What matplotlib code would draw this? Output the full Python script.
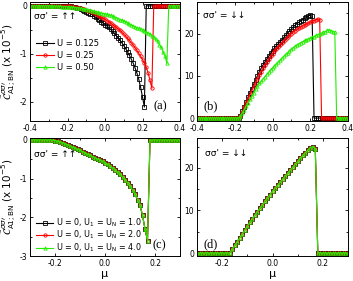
import matplotlib
matplotlib.use('Agg')
import matplotlib.pyplot as plt
import numpy as np
from matplotlib.ticker import AutoMinorLocator

plt.rcParams['font.family'] = ['DejaVu Sans']
plt.rcParams['axes.unicode_minus'] = False

# mu grids
mu_top = np.round(np.linspace(-0.40, 0.40, 81), 2)
mu_bot = np.round(np.linspace(-0.30, 0.30, 61), 2)

# (a) up-up, U = 0.125 / 0.25 / 0.50
up_u0125 = [0.0] * 21 + [
    -0.005, -0.01, -0.02, -0.03, -0.04, -0.055, -0.07, -0.085, -0.10, -0.12,
    -0.14, -0.16, -0.18, -0.21, -0.24, -0.27, -0.30, -0.33, -0.36,
    -0.39, -0.42, -0.45, -0.49, -0.53, -0.57, -0.62, -0.67, -0.72, -0.77,
    -0.83, -0.89, -0.96, -1.03, -1.11, -1.19, -1.29, -1.40, -1.53, -1.70,
    -1.90, -2.11] + [0.0] * 19
up_u025 = [0.0] * 21 + [
    -0.005, -0.01, -0.015, -0.02, -0.03, -0.04, -0.05, -0.06, -0.075, -0.09,
    -0.10, -0.115, -0.13, -0.15, -0.17, -0.19, -0.22, -0.24, -0.26,
    -0.28, -0.31, -0.33, -0.36, -0.39, -0.42, -0.45, -0.48, -0.51, -0.55,
    -0.59, -0.63, -0.68, -0.72, -0.77, -0.82, -0.87, -0.93, -0.99, -1.05,
    -1.12, -1.19, -1.28, -1.40, -1.55, -1.72] + [0.0] * 15
up_u050 = [0.0] * 11 + [
    -0.002, -0.004, -0.006, -0.008, -0.01, -0.012, -0.014, -0.016, -0.018, -0.02,
    -0.024, -0.028, -0.032, -0.036, -0.04, -0.046, -0.052, -0.058, -0.064, -0.07,
    -0.08, -0.09, -0.10, -0.11, -0.12, -0.13, -0.14, -0.15, -0.16,
    -0.17, -0.18, -0.19, -0.20, -0.215, -0.23, -0.245, -0.265, -0.285, -0.30,
    -0.32, -0.34, -0.36, -0.38, -0.40, -0.42, -0.44, -0.455, -0.47, -0.49,
    -0.51, -0.53, -0.55, -0.57, -0.59, -0.62, -0.65, -0.70, -0.73, -0.81,
    -0.85, -0.96, -1.04, -1.20] + [0.0] * 7

# (b) down-down
dn_u0125 = [0.0] * 23 + [
    0.5, 1.6, 2.7, 3.8, 4.9, 6.0, 7.0, 8.0, 9.0, 10.0, 11.0, 11.8, 12.6, 13.3,
    14.0, 14.7, 15.4,
    16.0, 16.6, 17.1, 17.6, 18.1, 18.6, 19.1, 19.6, 20.1, 20.6, 21.1, 21.6,
    22.0, 22.4, 22.7, 23.0, 23.3, 23.6, 23.9, 24.2, 24.4, 24.1] + [0.0] * 19
dn_u025 = [0.0] * 23 + [
    0.5, 1.5, 2.5, 3.5, 4.5, 5.5, 6.5, 7.5, 8.4, 9.3, 10.2, 11.0, 11.8, 12.5,
    13.2, 13.9, 14.6,
    15.2, 15.8, 16.3, 16.8, 17.3, 17.8, 18.3, 18.8, 19.2, 19.6, 20.0, 20.4,
    20.7, 21.0, 21.3, 21.6, 21.9, 22.1, 22.3, 22.5, 22.7, 22.9, 23.1, 23.3,
    23.5, 23.3] + [0.0] * 15
dn_u050 = [0.0] * 23 + [
    0.4, 1.2, 2.0, 2.8, 3.6, 4.4, 5.2, 6.0, 6.8, 7.5, 8.2, 8.7, 9.3, 9.8,
    10.4, 10.9, 11.5,
    11.9, 12.4, 12.8, 13.3, 13.7, 14.2, 14.6, 15.1, 15.5, 16.0,
    16.3, 16.7, 17.0, 17.4, 17.6, 17.9, 18.1, 18.4, 18.5, 18.8,
    18.9, 19.2, 19.3, 19.6, 19.7, 20.0, 20.1, 20.4, 20.5, 20.8,
    20.9, 20.7, 20.5, 20.4] + [0.0] * 7

# (c)/(d) U=0, U1=UN = 1, 2, 4 (curves coincide)
up_u1 = [0.0] * 9 + [
    -0.005, -0.015, -0.03, -0.05, -0.07, -0.10, -0.12, -0.15, -0.18, -0.21,
    -0.24, -0.27, -0.30, -0.34, -0.37, -0.40, -0.43, -0.46, -0.49, -0.52, -0.55,
    -0.59, -0.63, -0.67, -0.72, -0.77, -0.83, -0.89, -0.96, -1.03, -1.11,
    -1.20, -1.30, -1.41, -1.54, -1.69, -1.95, -2.30, -2.60] + [0.0] * 13
dn_u1 = [0.0] * 14 + [
    0.9, 1.8, 2.7, 3.6, 4.5, 5.4, 6.3, 7.2, 8.1, 8.9, 9.7, 10.5, 11.3, 12.1,
    12.9, 13.7,
    14.5, 15.2, 15.9, 16.6, 17.3, 18.0, 18.7, 19.4, 20.1, 20.8, 21.5, 22.2,
    22.9, 23.5, 24.1, 24.7, 25.0, 24.5] + [0.0] * 13

top_labels = ['U = 0.125', 'U = 0.25', 'U = 0.50']
bot_labels = ['U = 0, U$_1$ = U$_\\mathregular{N}$ = 1.0',
              'U = 0, U$_1$ = U$_\\mathregular{N}$ = 2.0',
              'U = 0, U$_1$ = U$_\\mathregular{N}$ = 4.0']
colors = ['black', '#ff0000', '#22ee00']
markers = ['s', 'o', '^']

ylab = r'$\tilde{\mathcal{C}}^{\sigma\sigma\prime}_{\mathrm{A1;BN}}$ (x 10$^{-5}$)'

W, H = 353.0, 281.0
fig = plt.figure(figsize=(3.53, 2.81), dpi=100)
ax_a = fig.add_axes([30/W, 1-121/H, 150/W, 119/H])
ax_b = fig.add_axes([197/W, 1-121/H, 151/W, 119/H])
ax_c = fig.add_axes([30/W, 1-256/H, 150/W, 118/H])
ax_d = fig.add_axes([197/W, 1-256/H, 151/W, 118/H])


def draw(ax, x, series, labels):
    for y, lab, c, m in zip(series, labels, colors, markers):
        ax.plot(x, y, color=c, lw=0.8, marker=m, ms=2.4, mfc='none',
                mew=0.6, label=lab)


draw(ax_a, mu_top, [up_u0125, up_u025, up_u050], top_labels)
draw(ax_b, mu_top, [dn_u0125, dn_u025, dn_u050], top_labels)
draw(ax_c, mu_bot, [up_u1, up_u1, up_u1], bot_labels)
draw(ax_d, mu_bot, [dn_u1, dn_u1, dn_u1], bot_labels)

ax_a.set_xlim(-0.4, 0.4)
ax_a.set_ylim(-2.4, 0.08)
ax_a.set_yticks([0, -1, -2])
ax_b.set_xlim(-0.4, 0.4)
ax_b.set_ylim(-0.7, 27.5)
ax_b.set_yticks([0, 10, 20])
for ax in (ax_a, ax_b):
    ax.set_xticks([-0.4, -0.2, 0.0, 0.2, 0.4])
ax_c.set_xlim(-0.3, 0.3)
ax_c.set_ylim(-3, 0.05)
ax_c.set_yticks([0, -1, -2, -3])
ax_d.set_xlim(-0.3, 0.3)
ax_d.set_ylim(-0.7, 27)
ax_d.set_yticks([0, 10, 20])
for ax in (ax_c, ax_d):
    ax.set_xticks([-0.2, 0.0, 0.2])
    ax.set_xlabel('μ', fontsize=8, labelpad=1)

for ax in (ax_a, ax_b, ax_c, ax_d):
    ax.xaxis.set_minor_locator(AutoMinorLocator(2))
    ax.yaxis.set_minor_locator(AutoMinorLocator(2))
    ax.tick_params(which='both', direction='in', top=True, right=True,
                   labelsize=5.5, pad=2, width=0.6)
    ax.tick_params(which='major', length=2.5)
    ax.tick_params(which='minor', length=1.5)
    for s in ax.spines.values():
        s.set_linewidth(0.7)

ax_a.set_ylabel(ylab, fontsize=7.5, labelpad=1)
ax_c.set_ylabel(ylab, fontsize=7.5, labelpad=1)

ax_a.text(0.03, 0.88, "σσ' = ↑↑", transform=ax_a.transAxes, fontsize=6.5, va='center')
ax_b.text(0.04, 0.89, "σσ' = ↓↓", transform=ax_b.transAxes, fontsize=6.5, va='center')
ax_c.text(0.03, 0.86, "σσ' = ↑↑", transform=ax_c.transAxes, fontsize=6.5, va='center')
ax_d.text(0.05, 0.87, "σσ' = ↓↓", transform=ax_d.transAxes, fontsize=6.5, va='center')

pfont = dict(family='Liberation Serif', fontsize=9, ha='center', va='center')
ax_a.text(0.87, 0.12, '(a)', transform=ax_a.transAxes, **pfont)
ax_b.text(0.09, 0.12, '(b)', transform=ax_b.transAxes, **pfont)
ax_c.text(0.86, 0.09, '(c)', transform=ax_c.transAxes, **pfont)
ax_d.text(0.09, 0.10, '(d)', transform=ax_d.transAxes, **pfont)

ax_a.legend(loc='center left', bbox_to_anchor=(0.0, 0.55), frameon=False,
            fontsize=6, handlelength=2.2, handletextpad=0.3, labelspacing=0.35,
            borderpad=0.2)
ax_c.legend(loc='lower left', bbox_to_anchor=(0.0, -0.03), frameon=False,
            fontsize=5.8, handlelength=2.2, handletextpad=0.3, labelspacing=0.0,
            borderpad=0.2)

fig.savefig('out.png', dpi=100)
